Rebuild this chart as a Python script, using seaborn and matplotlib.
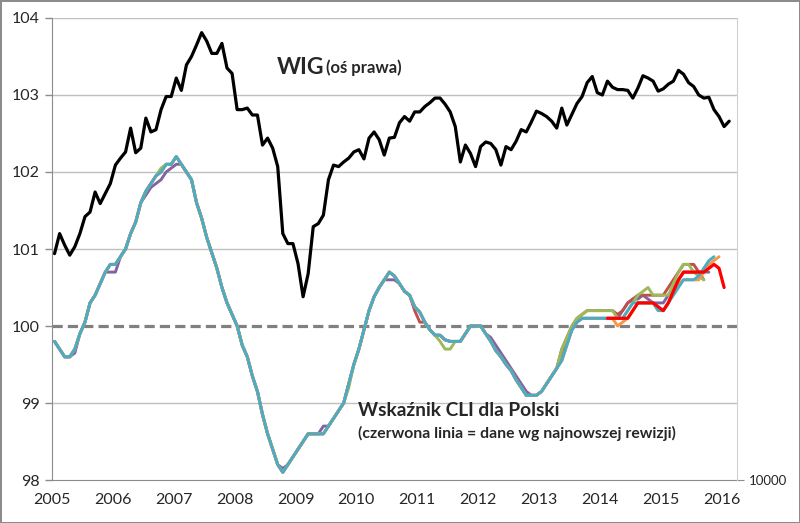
import numpy as np
import matplotlib
matplotlib.use("Agg")
import matplotlib.pyplot as plt
import seaborn as sns

# WIG (plotted on the right axis, in chart units)
wig = [100.94, 101.2, 101.05, 100.92, 101.03, 101.2, 101.42, 101.48, 101.74, 101.59,
       101.72, 101.85, 102.09, 102.18, 102.26, 102.57, 102.25, 102.31, 102.70, 102.52,
       102.55, 102.81, 102.98, 102.98, 103.22, 103.06, 103.39, 103.50, 103.65, 103.81,
       103.7, 103.54, 103.54, 103.67, 103.35, 103.28, 102.81, 102.81, 102.83, 102.74,
       102.74, 102.35, 102.44, 102.31, 102.07, 101.2, 101.07, 101.07, 100.81, 100.38,
       100.68, 101.29, 101.33, 101.44, 101.9, 102.09, 102.07, 102.13, 102.18, 102.26,
       102.29, 102.17, 102.44, 102.52, 102.42, 102.22, 102.44, 102.45, 102.64, 102.72,
       102.66, 102.78, 102.78, 102.85, 102.9, 102.96, 102.96, 102.88, 102.78, 102.59,
       102.13, 102.35, 102.24, 102.07, 102.33, 102.39, 102.37, 102.29, 102.09, 102.33,
       102.29, 102.4, 102.55, 102.52, 102.65, 102.79, 102.76, 102.72, 102.66, 102.57,
       102.83, 102.61, 102.75, 102.89, 102.98, 103.16, 103.24, 103.03, 103.0, 103.18,
       103.1, 103.07, 103.07, 103.06, 102.96, 103.09, 103.25, 103.22, 103.18, 103.05,
       103.08, 103.14, 103.18, 103.32, 103.27, 103.16, 103.11, 103.0, 102.96, 102.97,
       102.81, 102.72, 102.59, 102.66]

# CLI history shared by all vintages, Jan 2005 - Apr 2013
cli_hist = [99.8, 99.7, 99.6, 99.6, 99.7, 99.9, 100.05, 100.3, 100.4, 100.55,
            100.7, 100.8, 100.8, 100.9, 101.0, 101.2, 101.35, 101.6, 101.75, 101.85,
            101.95, 102.0, 102.1, 102.1, 102.2, 102.1, 102.0, 101.9, 101.6, 101.4,
            101.15, 100.95, 100.75, 100.5, 100.3, 100.15, 100.0, 99.75, 99.6, 99.35,
            99.15, 98.85, 98.6, 98.4, 98.2, 98.1, 98.2, 98.3, 98.4, 98.5,
            98.6, 98.6, 98.6, 98.6, 98.7, 98.8, 98.9, 99.0, 99.25, 99.5,
            99.7, 99.95, 100.2, 100.38, 100.5, 100.6, 100.7, 100.65, 100.55, 100.45,
            100.4, 100.25, 100.18, 100.05, 99.95, 99.88, 99.88, 99.82, 99.8, 99.8,
            99.8, 99.9, 100.0, 100.0, 100.0, 99.9, 99.8, 99.68, 99.6, 99.5,
            99.42, 99.3, 99.2, 99.1, 99.1, 99.1, 99.15, 99.25, 99.35, 99.45]

# older vintages differ from the history in a few months: (month index, value)
purple_fix = [(3, 99.6), (4, 99.65), (11, 100.7), (12, 100.7), (18, 101.7), (19, 101.8),
              (20, 101.85), (21, 101.9), (22, 102.0), (23, 102.05), (24, 102.1),
              (44, 98.2), (45, 98.15), (46, 98.2), (53, 98.7), (65, 100.6), (66, 100.6),
              (67, 100.6), (86, 99.85), (87, 99.75), (88, 99.65), (89, 99.55),
              (90, 99.45), (91, 99.35), (92, 99.25), (93, 99.15)]
green_fix = [(21, 102.05), (22, 102.1), (58, 99.2), (76, 99.8), (77, 99.7), (78, 99.7), (79, 99.8)]
brown_fix = [(71, 100.2), (72, 100.05)]

# vintage tails from May 2013
brown_tail = [99.7, 99.85, 100.0, 100.1, 100.15, 100.2, 100.2, 100.2, 100.2, 100.2,
              100.2, 100.15, 100.2, 100.3, 100.35, 100.4, 100.4, 100.4, 100.4, 100.4,
              100.4, 100.5, 100.6, 100.7, 100.8, 100.8, 100.8, 100.7, 100.6]
green_tail = [99.7, 99.85, 100.0, 100.1, 100.15, 100.2, 100.2, 100.2, 100.2, 100.2,
              100.2, 100.1, 100.1, 100.2, 100.3, 100.4, 100.45, 100.5, 100.4, 100.4,
              100.4, 100.4, 100.55, 100.7, 100.8, 100.8, 100.7, 100.65, 100.6]
purple_tail = [99.6, 99.8, 99.95, 100.05, 100.1, 100.1, 100.1, 100.1, 100.1, 100.1,
               100.1, 100.1, 100.2, 100.3, 100.35, 100.35, 100.4, 100.35, 100.3, 100.3,
               100.3, 100.4, 100.5, 100.6, 100.7, 100.7, 100.7, 100.7, 100.7, 100.7]
teal_tail = [99.55, 99.75, 99.95, 100.05, 100.1, 100.1, 100.1, 100.1, 100.1, 100.1,
             100.1, 100.1, 100.1, 100.2, 100.3, 100.3, 100.3, 100.3, 100.3, 100.2,
             100.2, 100.3, 100.4, 100.5, 100.6, 100.6, 100.6, 100.65, 100.75, 100.85,
             100.9]
orange_tail = [99.55, 99.75, 99.95, 100.05, 100.1, 100.1, 100.1, 100.1, 100.1, 100.1,
               100.1, 100.0, 100.05, 100.1, 100.2, 100.3, 100.3, 100.3, 100.3, 100.2,
               100.2, 100.3, 100.45, 100.55, 100.6, 100.6, 100.6, 100.6, 100.7, 100.8,
               100.85, 100.9]
# latest revision, from Oct 2014
red_cli = [100.1, 100.1, 100.1, 100.1, 100.1, 100.2, 100.3, 100.3, 100.3, 100.3,
           100.25, 100.2, 100.3, 100.45, 100.6, 100.7, 100.7, 100.7, 100.7, 100.7,
           100.75, 100.8, 100.75, 100.5]
red_start = 109

years = list(range(2005, 2017))


def month_x(start, n):
    # mid-month positions in decimal years
    return 2005 + (np.arange(start, start + n) + 0.5) / 12


sns.set_style("white")
plt.rcParams["font.family"] = ["Lato", "DejaVu Sans"]

fig = plt.figure(figsize=(8, 5.23), dpi=100, edgecolor="#8c8c8c", linewidth=2)
ax = fig.add_axes([0.065, 0.0822, 0.856, 0.8834])

for v in [99, 101, 102, 103, 104]:
    ax.axhline(v, color="#c0c0c0", lw=1, zorder=0)
ax.axhline(100, color="#808080", lw=2.3, ls=(0, (3.2, 1.6)), zorder=1)

vintages = [("#8064A2", purple_fix, purple_tail), ("#C0504D", brown_fix, brown_tail),
            ("#9BBB59", green_fix, green_tail), ("#F79646", [], orange_tail),
            ("#4BACC6", [], teal_tail)]
for col, fix, tail in vintages:
    vals = cli_hist + tail
    for i, v in fix:
        vals[i] = v
    sns.lineplot(x=month_x(0, len(vals)), y=vals, ax=ax, color=col, lw=2.1, zorder=3)

sns.lineplot(x=month_x(red_start, len(red_cli)), y=red_cli, ax=ax,
             color="#FF0000", lw=2.3, zorder=4)

ax.set_xlim(2005, 2016.25)
ax.set_ylim(98, 104)
ax.set_xticks(years)
ax.set_xticklabels([str(y) for y in years], fontsize=11.5)
ax.set_yticks(range(98, 105))
ax.set_yticklabels([str(v) for v in range(98, 105)], fontsize=11.5)
ax.tick_params(axis="both", direction="out", length=5, color="#8c8c8c", width=1, pad=4)
for s in ["top", "right"]:
    ax.spines[s].set_visible(False)
for s in ["left", "bottom"]:
    ax.spines[s].set_color("#8c8c8c")

ax2 = ax.twinx()
sns.lineplot(x=month_x(0, len(wig)), y=wig, ax=ax2, color="black", lw=2.3)
ax2.set_ylim(98, 104)
ax2.set_yticks([98])
ax2.set_yticklabels(["10000"], fontsize=9.5)
ax2.tick_params(axis="y", direction="out", length=5, color="#8c8c8c", pad=4)
for s in ["top", "left", "bottom"]:
    ax2.spines[s].set_visible(False)
ax2.spines["right"].set_color("#d0d0d0")

ax.text(2008.7, 103.36, "WIG", fontsize=16.5, fontweight="bold", va="center")
ax.text(2009.5, 103.36, "(oś prawa)", fontsize=12, fontweight="bold", va="center")
ax.text(2010.02, 98.9, "Wskaźnik CLI dla Polski", fontsize=13.8, fontweight="bold", va="center")
ax.text(2010.02, 98.6, "(czerwona linia = dane wg najnowszej rewizji)", fontsize=11.3,
        fontweight="bold", va="center")

fig.savefig("out.png", dpi=100, edgecolor=fig.get_edgecolor())
